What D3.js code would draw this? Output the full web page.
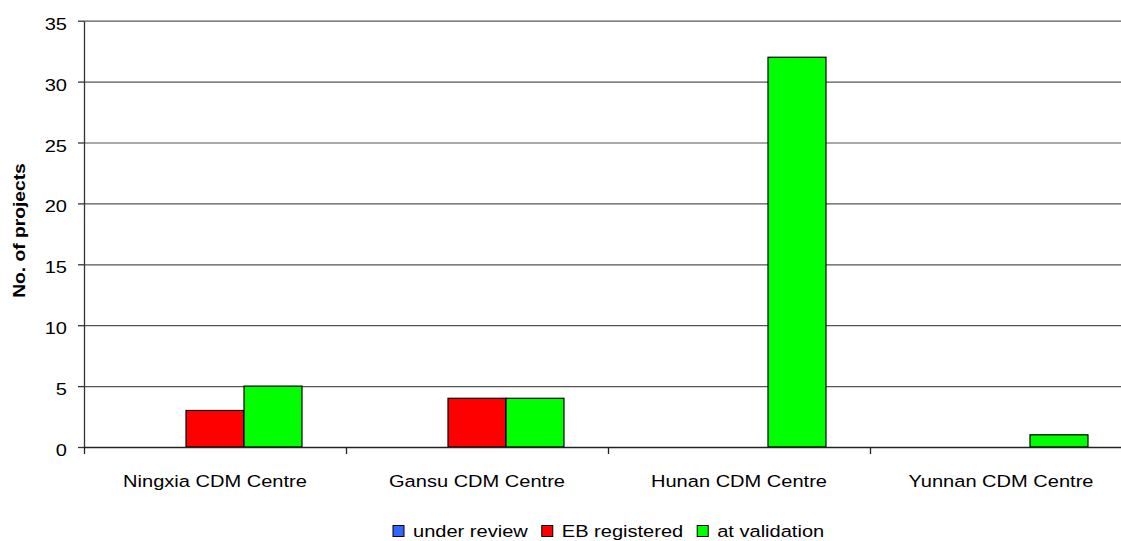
<!DOCTYPE html>
<html>
<head>
<meta charset="utf-8">
<script src="https://cdn.jsdelivr.net/npm/d3@7"></script>
<style>
  html, body { margin: 0; padding: 0; background: #fff; }
  svg { display: block; }
  text { font-family: "Liberation Sans", Arial, sans-serif; fill: #000; }
</style>
</head>
<body>
<svg id="chart" width="1121" height="541"></svg>
<script>
// Project counts per CDM centre
const centres = ["Ningxia CDM Centre", "Gansu CDM Centre", "Hunan CDM Centre", "Yunnan CDM Centre"];
const seriesNames = ["under review", "EB registered", "at validation"];
const underReview = [0, 0, 0, 0];
const ebRegistered = [3, 4, 0, 0];
const atValidation = [5, 4, 32, 1];
const yTicks = [0, 5, 10, 15, 20, 25, 30, 35];
const seriesColors = ["#3366ff", "#ff0000", "#00ff00"];

const seriesValues = [underReview, ebRegistered, atValidation];
const rows = centres.map((c, i) => ({
  centre: c,
  values: seriesNames.map((s, j) => ({ series: s, value: seriesValues[j][i] }))
}));

const W = 1121, H = 541;
const plot = { left: 84, top: 20.7, bottom: 447, right: 1132 };
const SX = 1.18; // horizontal glyph stretch

const svg = d3.select("#chart");

const x0 = d3.scaleBand()
  .domain(centres)
  .range([plot.left, plot.right])
  .paddingInner(0.336)
  .paddingOuter(0.168);
const x1 = d3.scaleBand()
  .domain(seriesNames)
  .range([0, x0.bandwidth()]);
const y = d3.scaleLinear().domain([0, 35]).range([plot.bottom, plot.top]);
const color = d3.scaleOrdinal().domain(seriesNames).range(seriesColors);

// stretch a text element horizontally around its anchor point
function stretch(sel) {
  sel.each(function () {
    const t = d3.select(this);
    const tx = +t.attr("x") || 0, ty = +t.attr("y") || 0;
    t.attr("x", 0).attr("y", 0)
     .attr("transform", `translate(${tx},${ty}) scale(${SX},1)`);
  });
}

// horizontal gridlines
svg.append("g")
  .attr("transform", `translate(${plot.left},0)`)
  .call(d3.axisLeft(y).tickValues(yTicks.slice(1)).tickSize(-(plot.right - plot.left)).tickFormat(""))
  .call(g => g.select(".domain").remove())
  .call(g => g.selectAll("line").attr("stroke", "#555").attr("stroke-width", 1.2));

// bars
const groups = svg.append("g").selectAll("g")
  .data(rows).join("g")
  .attr("transform", d => `translate(${x0(d.centre)},0)`);
groups.selectAll("rect")
  .data(d => d.values.filter(v => v.value > 0)).join("rect")
  .attr("x", d => x1(d.series))
  .attr("y", d => y(d.value))
  .attr("width", x1.bandwidth())
  .attr("height", d => y(0) - y(d.value))
  .attr("fill", d => color(d.series))
  .attr("stroke", "#000")
  .attr("stroke-width", 1.2);

// y axis
const yAxis = svg.append("g")
  .attr("transform", `translate(${plot.left},0)`)
  .call(d3.axisLeft(y).tickValues(yTicks).tickSize(6).tickPadding(11).tickSizeOuter(0));
yAxis.selectAll("path, line").attr("stroke", "#333").attr("stroke-width", 1.3);
yAxis.selectAll("text")
  .attr("font-size", 17).attr("font-family", null).attr("y", 8.5).attr("dy", null);
stretch(yAxis.selectAll("text"));

// x axis: boundary ticks
const boundaries = d3.range(centres.length + 1);
const xb = d3.scaleLinear().domain([0, centres.length]).range([plot.left, plot.right]);
const xTickAxis = svg.append("g")
  .attr("transform", `translate(0,${plot.bottom})`)
  .call(d3.axisBottom(xb).tickValues(boundaries).tickSize(7).tickFormat("").tickSizeOuter(0));
xTickAxis.selectAll("path, line").attr("stroke", "#222").attr("stroke-width", 1.3);

// x axis: category labels
const xAxis = svg.append("g")
  .attr("transform", `translate(0,${plot.bottom})`)
  .call(d3.axisBottom(x0).tickSize(0));
xAxis.select(".domain").remove();
xAxis.selectAll("text")
  .attr("font-size", 17).attr("font-family", null).attr("y", 39.7).attr("dy", null);
stretch(xAxis.selectAll("text"));

// y axis title
svg.append("text")
  .attr("transform", `translate(24.5,230.5) rotate(-90) scale(${SX},1)`)
  .attr("text-anchor", "middle")
  .attr("font-size", 16.3)
  .attr("font-weight", "bold")
  .text("No. of projects");

// legend
const legend = svg.append("g");
let lx = 393;
seriesNames.forEach(s => {
  legend.append("rect")
    .attr("x", lx).attr("y", 525.5).attr("width", 11).attr("height", 11)
    .attr("fill", color(s)).attr("stroke", "#000").attr("stroke-width", 1);
  const t = legend.append("text")
    .attr("transform", `translate(${lx + 20},536.8) scale(${SX},1)`)
    .attr("font-size", 17)
    .text(s);
  lx += 20 + t.node().getComputedTextLength() * SX + 14;
});
</script>
</body>
</html>
